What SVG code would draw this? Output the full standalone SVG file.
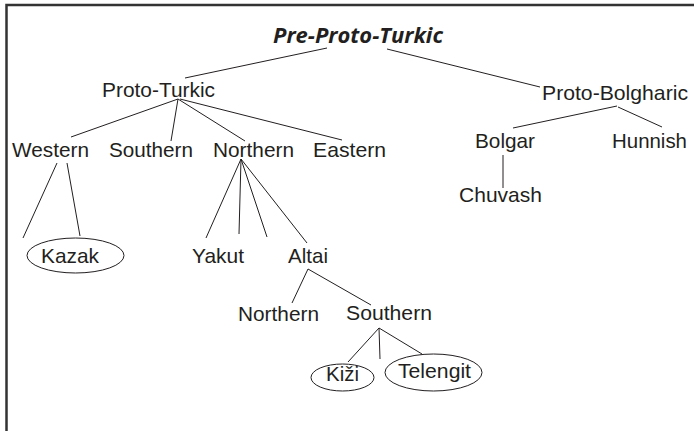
<svg xmlns="http://www.w3.org/2000/svg" width="694" height="431" viewBox="0 0 694 431">
<style>
text{font-family:"Liberation Sans",Arial,sans-serif;font-size:21px;fill:#231f20}
.title{font-family:"Open Sans","Liberation Sans",sans-serif;font-weight:bold;font-style:italic;font-size:21px}
.e{fill:none;stroke:#231f20;stroke-width:1}
#connectors line{stroke:#231f20;stroke-width:1}
.frame{stroke:#333;stroke-width:2.5;fill:none}
</style>
<rect width="694" height="431" fill="#fff"/>
<path class="frame" d="M6.5 431 V5 H694"/>
<g id="connectors">
<line x1="327" y1="48" x2="185" y2="78"/>
<line x1="387" y1="49" x2="540" y2="87"/>
<line x1="178" y1="99" x2="71" y2="137"/>
<line x1="178" y1="99" x2="171" y2="141"/>
<line x1="178" y1="99" x2="245" y2="141"/>
<line x1="180" y1="99" x2="342" y2="140"/>
<line x1="57" y1="163" x2="23" y2="238"/>
<line x1="67" y1="163" x2="80" y2="236"/>
<line x1="241" y1="159" x2="206" y2="238"/>
<line x1="241" y1="159" x2="239" y2="234"/>
<line x1="241" y1="159" x2="267" y2="237"/>
<line x1="241" y1="159" x2="307" y2="243"/>
<line x1="308" y1="269" x2="292" y2="303"/>
<line x1="308" y1="269" x2="371" y2="305"/>
<line x1="379" y1="328" x2="348" y2="362"/>
<line x1="379" y1="328" x2="380" y2="359"/>
<line x1="379" y1="328" x2="422" y2="354"/>
<line x1="617" y1="106" x2="513" y2="128"/>
<line x1="618" y1="107" x2="662" y2="127"/>
<line x1="503" y1="155" x2="503" y2="188"/>
</g>
<g id="pre-proto-turkic"><text class="title" x="273" y="43" textLength="170" lengthAdjust="spacingAndGlyphs">Pre-Proto-Turkic</text></g>
<g id="proto-turkic"><text x="102" y="97" textLength="113" lengthAdjust="spacingAndGlyphs">Proto-Turkic</text></g>
<g id="proto-bolgharic"><text x="542" y="100" textLength="146" lengthAdjust="spacingAndGlyphs">Proto-Bolgharic</text></g>
<g id="western"><text x="12" y="157" textLength="77" lengthAdjust="spacingAndGlyphs">Western</text></g>
<g id="southern"><text x="109" y="157" textLength="84" lengthAdjust="spacingAndGlyphs">Southern</text></g>
<g id="northern"><text x="213" y="157" textLength="81" lengthAdjust="spacingAndGlyphs">Northern</text></g>
<g id="eastern"><text x="313" y="157" textLength="73" lengthAdjust="spacingAndGlyphs">Eastern</text></g>
<g id="bolgar"><text x="475" y="148" textLength="60" lengthAdjust="spacingAndGlyphs">Bolgar</text></g>
<g id="hunnish"><text x="612" y="148" textLength="75" lengthAdjust="spacingAndGlyphs">Hunnish</text></g>
<g id="chuvash"><text x="459" y="202" textLength="83" lengthAdjust="spacingAndGlyphs">Chuvash</text></g>
<g id="kazak"><ellipse class="e" cx="75.5" cy="255.5" rx="48.5" ry="17.5"/><text x="41" y="263" textLength="58" lengthAdjust="spacingAndGlyphs">Kazak</text></g>
<g id="yakut"><text x="192" y="263" textLength="52" lengthAdjust="spacingAndGlyphs">Yakut</text></g>
<g id="altai"><text x="288" y="263" textLength="40" lengthAdjust="spacingAndGlyphs">Altai</text></g>
<g id="altai-northern"><text x="238" y="321" textLength="81" lengthAdjust="spacingAndGlyphs">Northern</text></g>
<g id="altai-southern"><text x="346" y="320" textLength="86" lengthAdjust="spacingAndGlyphs">Southern</text></g>
<g id="kizi"><ellipse class="e" cx="342.5" cy="377.5" rx="31.5" ry="13.5"/><text x="326" y="381" textLength="33" lengthAdjust="spacingAndGlyphs">Kiži</text></g>
<g id="telengit"><ellipse class="e" cx="433.5" cy="372.5" rx="48.5" ry="18.5"/><text x="398" y="378" textLength="73" lengthAdjust="spacingAndGlyphs">Telengit</text></g>
</svg>
